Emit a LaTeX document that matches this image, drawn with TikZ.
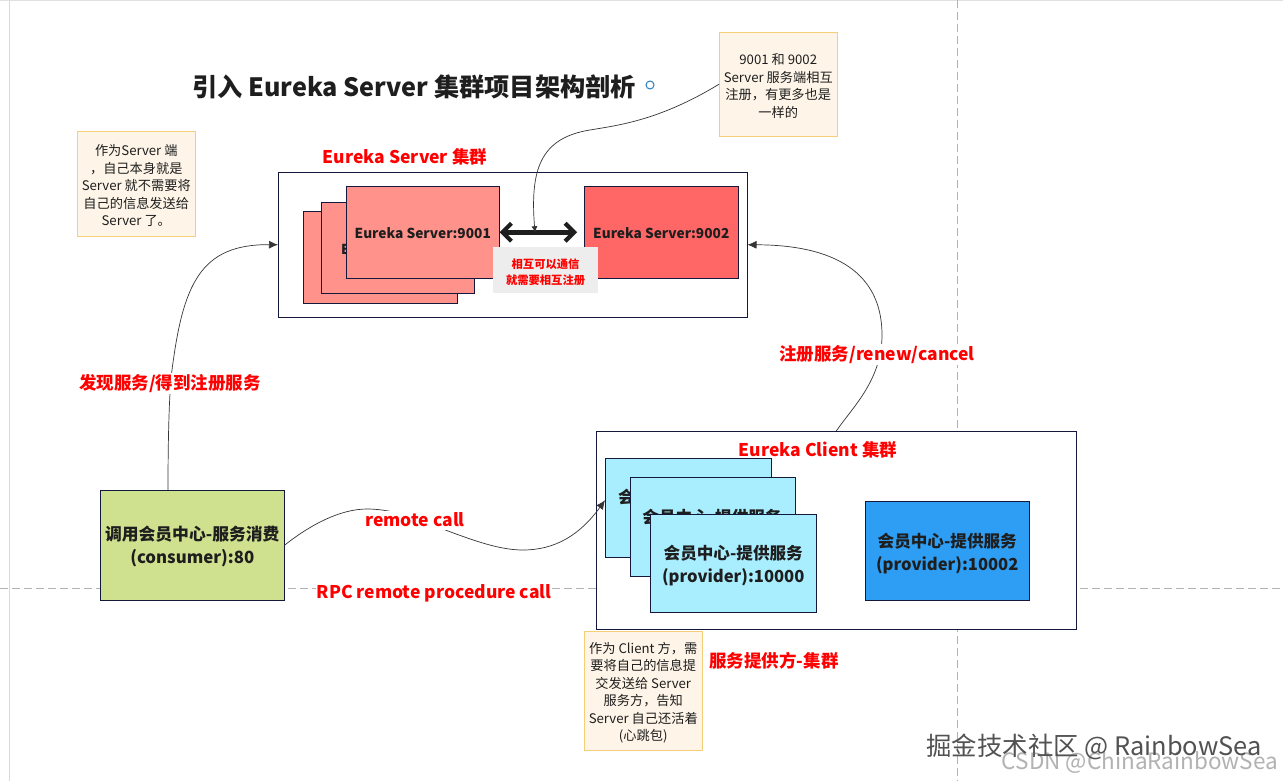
\documentclass[tikz,border=0pt]{standalone}
\usepackage{fontspec}
\setmainfont{Noto Sans CJK SC}
\usetikzlibrary{arrows.meta,calc}
\definecolor{edgeNavy}{HTML}{14183C}
\definecolor{noteFill}{HTML}{FEF5E8}
\definecolor{noteEdge}{HTML}{F5CF78}
\definecolor{salmon}{HTML}{FF928A}
\definecolor{coral}{HTML}{FF6666}
\definecolor{skyLight}{HTML}{A8EEFF}
\definecolor{skyDeep}{HTML}{2E9EF4}
\definecolor{limeFill}{HTML}{CFE08F}
\definecolor{inkDark}{HTML}{1E1E1E}
\newcommand{\fs}[2]{\fontsize{#1pt}{#2pt}\selectfont}
\newcommand{\pad}[1]{\rule{0pt}{#1pt}}
\tikzset{
  x=1pt,y=-1pt,
  boxbase/.style={draw=edgeNavy,line width=0.8pt,inner sep=0pt,align=center,text=inkDark,font=\fs{16.6}{23}\bfseries,anchor=north west},
  outerbox/.style={boxbase,fill=white},
  notebox/.style={draw=noteEdge,fill=noteFill,line width=0.8pt,inner sep=0pt,align=center,anchor=north west,text=inkDark,font=\fs{13.2}{17.5}},
  redlabel/.style={text=red,font=\fs{17.5}{20}\bfseries,inner sep=0pt},
  gaplabel/.style={redlabel,fill=white,inner xsep=1pt,inner ysep=1pt},
  link/.style={draw=inkDark!90,line width=0.7pt,-{Latex[length=9pt,width=8pt]}},
  guide/.style={draw=black!30,line width=0.7pt,dash pattern=on 8pt off 4pt},
}
\newcommand{\sizedbox}[6]{% name, style, x0,y0,x1,y1 -- text follows
  \node[#2,minimum width=#5pt-#3pt-0.3pt,minimum height=#6pt-#4pt-0.3pt] (#1) at (#3,#4)}
\begin{document}
\begin{tikzpicture}
\useasboundingbox (0,0) rectangle (1283,781);
\fill[white] (0,0) rectangle (1283,781);
\coordinate (hl) at (0,588); \coordinate (hr) at (1283,588);
\coordinate (vt) at (957,0); \coordinate (vb) at (957,781);
\coordinate (tl) at (0,1); \coordinate (tr) at (1283,1);
\coordinate (ll) at (9,1); \coordinate (lb) at (9,781);
\draw[black!12,line width=1pt] (tl) -- (tr);
\draw[black!15,line width=1pt] (ll) -- (lb);
\draw[guide] (hl) -- (hr);
\draw[guide] (vt) -- (vb);

\node[inner sep=0pt,text=inkDark,font=\fs{25.2}{28}\bfseries] (title) at (414,87) {引入 Eureka Server 集群项目架构剖析};
\node[circle,draw=skyDeep!80!black,line width=1pt,minimum size=8pt,inner sep=0pt] (dot) at (650,85) {};

% Server cluster
\sizedbox{srv}{outerbox}{278}{172}{747}{317}{};
\sizedbox{sback}{boxbase,fill=salmon}{303}{211}{457}{303}{};
\sizedbox{smid}{boxbase,fill=salmon}{321}{202}{474}{293}{};
\node[anchor=west,inner sep=0pt,text=inkDark,font=\fs{13.7}{16}\bfseries] (smidt) at (341,249) {Eureka Server:9001};
\sizedbox{sfront}{boxbase,fill=salmon,font=\fs{13.7}{16}\bfseries}{346}{186}{499}{278}{\pad{13}Eureka Server:9001};
\sizedbox{sright}{boxbase,fill=coral,font=\fs{13.7}{16}\bfseries}{584}{186}{738}{278}{\pad{13}Eureka Server:9002};
\coordinate (heart) at ($(sright.west)+(-7,0)$);
\draw[inkDark,line width=4.8pt,{Straight Barb[length=9pt,width=18pt,line width=4.2pt]}-{Straight Barb[length=9pt,width=18pt,line width=4.2pt]}] (sfront.east) -- (heart);
\sizedbox{mutual}{fill=black!7,inner sep=0pt,align=center,anchor=north west,text=red,font=\fs{11.3}{16.7}\bfseries}{493}{247}{598}{293}{\pad{14}相互可以通信\\就需要相互注册};
\node[redlabel] (srvlab) at (405,157) {Eureka Server 集群};

% Client cluster
\sizedbox{cli}{outerbox}{596}{431}{1076}{629}{};
\sizedbox{cback}{boxbase,fill=skyLight}{605}{458}{771}{557}{};
\node[anchor=west,inner sep=0pt,text=inkDark,font=\fs{16.6}{20}\bfseries] (cbackt) at (618,497) {会员中心-提供服务};
\sizedbox{cmid}{boxbase,fill=skyLight}{630}{477}{795}{576}{};
\node[inner sep=0pt,text=inkDark,font=\fs{16.6}{20}\bfseries] (cmidt) at (712,517) {会员中心-提供服务};
\sizedbox{cfront}{boxbase,fill=skyLight}{650}{514}{816}{612}{\pad{18.6}会员中心-提供服务\\(provider):10000};
\sizedbox{cright}{boxbase,fill=skyDeep}{865}{501}{1029}{600}{\pad{19.6}会员中心-提供服务\\(provider):10002};
\node[redlabel] (clilab) at (818,450) {Eureka Client 集群};

\sizedbox{cons}{boxbase,fill=limeFill,font=\fs{16.8}{23}\bfseries}{100}{490}{284}{600}{\pad{17}调用会员中心-服务消费\\(consumer):80};

% Notes
\sizedbox{noteL}{notebox}{77}{131}{195}{236}{\pad{14.6}作为Server 端\\，自己本身就是\\Server 就不需要将\\自己的信息发送给\\Server 了。};
\sizedbox{noteT}{notebox}{719}{32}{837}{136}{\pad{14.6}9001 和 9002\\Server 服务端相互\\注册，有更多也是\\一样的};
\sizedbox{noteB}{notebox}{584}{631}{702}{750}{\pad{14.6}作为 Client 方，需\\要将自己的信息提\\交发送给 Server\\服务方，告知\\Server 自己还活着\\(心跳包)};

% Connectors
\draw[link] ([xshift=68pt]cons.north west) .. controls +(0,-70) and (170,385) .. (172,370) .. controls (183,285) and (200,244) .. (srv.west);
\draw[link] (cli.north) .. controls (852,408) and (882,380) .. (882,335) .. controls (882,280) and (845,245) .. (srv.east);
\coordinate (heartMid) at ($(sfront.east)!0.42!(sright.west)$);
\draw[link,-{Latex[length=6pt,width=6pt]}] (noteT.west) .. controls (660,120) and (620,125) .. (590,130) .. controls (540,138) and (530,170) .. (heartMid);
\draw[link] (cons.east) .. controls (310,525) and (340,509) .. (367,509) .. controls (395,509) and (420,520) .. (448,531) .. controls (475,541) and (500,550) .. (523,550) .. controls (555,550) and (580,535) .. ([yshift=7.5pt]cback.west);
\node[gaplabel,minimum height=19pt] (rc) at (415,520) {remote call};

% Labels
\node[gaplabel] (l1) at (170,383.5) {发现服务/得到注册服务};
\node[gaplabel] (l2) at (877,354.5) {注册服务/renew/cancel};
\node[gaplabel] (l3) at (434,593.5) {RPC remote procedure call};
\node[redlabel] (l4) at (774,661) {服务提供方-集群};

% Watermarks
\node[inner sep=0pt,text=black!30,font=\fs{22.5}{26}] (wm2) at (1140,762) {CSDN @ChinaRainbowSea};
\node[inner sep=0pt,text=black!68,font=\fs{25.4}{28}] (wm1) at (1094,747) {掘金技术社区 @ RainbowSea};
\end{tikzpicture}
\end{document}
